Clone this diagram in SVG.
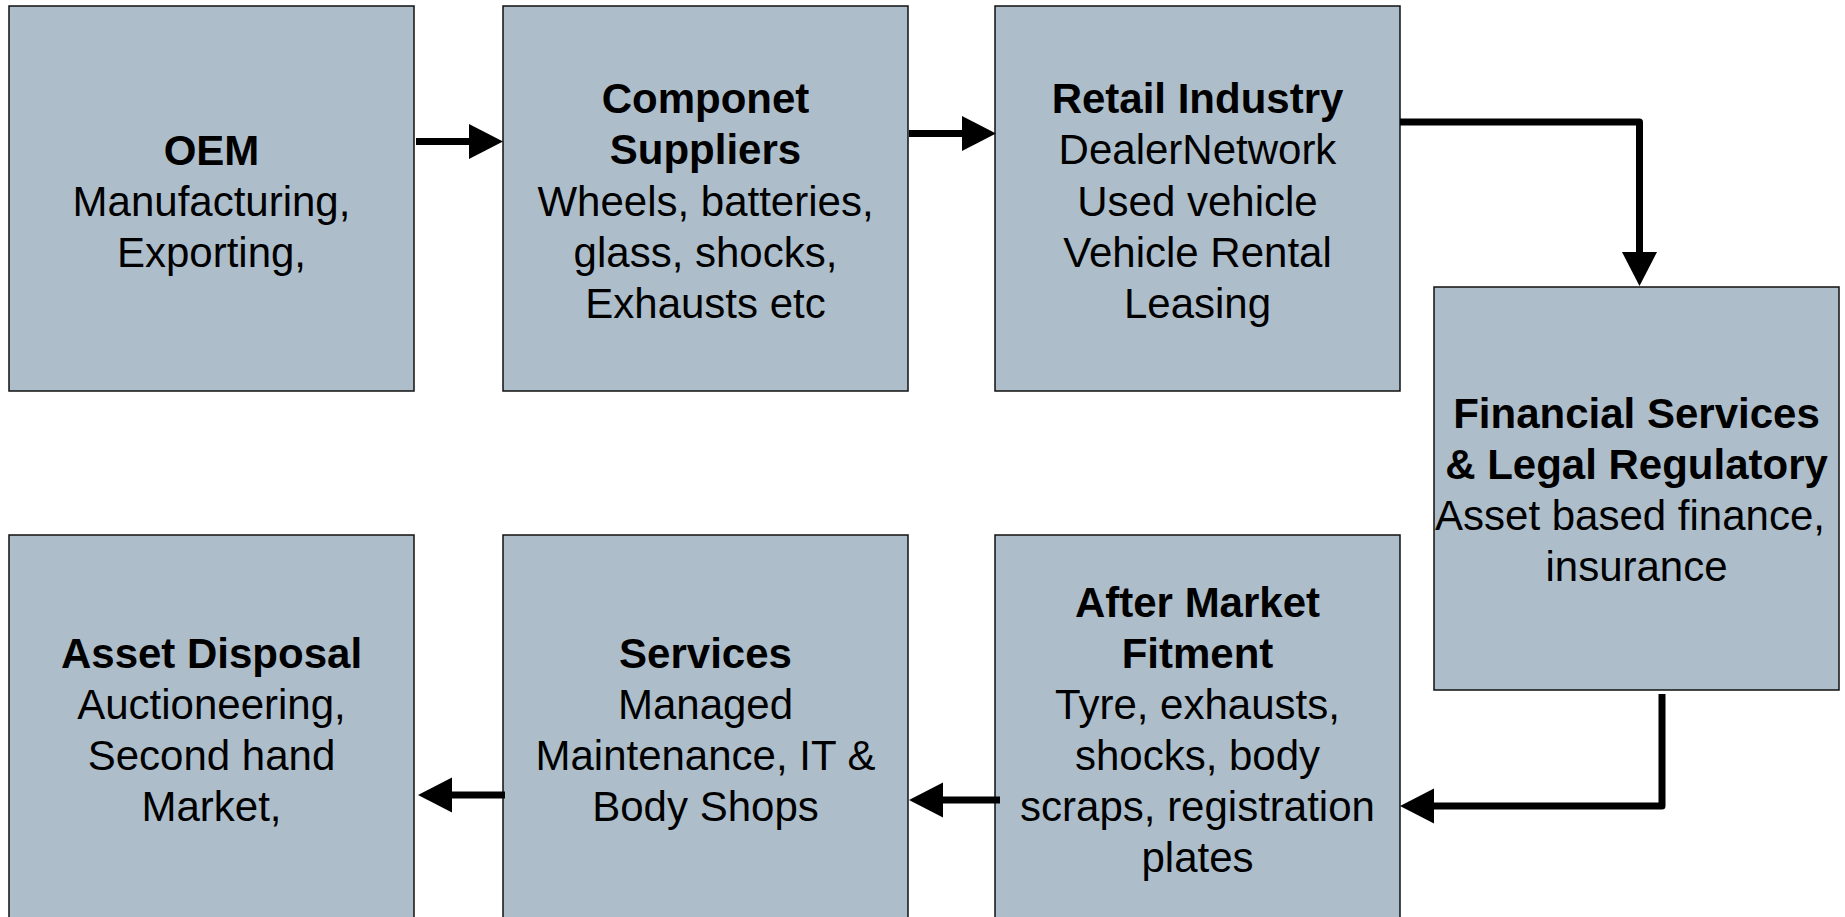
<svg xmlns="http://www.w3.org/2000/svg" width="1845" height="917" viewBox="0 0 1845 917">
<style>
.box{fill:#adbeca;stroke:#111;stroke-width:1.5}
.t{font-family:"Liberation Sans",Arial,sans-serif;font-size:42px;fill:#000;text-anchor:middle}
.b{font-weight:bold}
.c{fill:none;stroke:#000;stroke-width:7;stroke-linejoin:round}
</style>
<defs>
<marker id="ah" markerUnits="userSpaceOnUse" markerWidth="35" markerHeight="36" refX="0" refY="17.5" orient="auto" viewBox="0 0 35 36">
<path d="M0,0 L34,17.5 L0,35 z" fill="#000"/>
</marker>
</defs>
<rect width="1845" height="917" fill="#fff"/>
<g id="oem">
<rect class="box" x="9" y="6" width="405" height="385"/>
<text class="t" x="211.5"><tspan class="b" x="211.5" y="165">OEM</tspan><tspan x="211.5" y="216">Manufacturing,</tspan><tspan x="211.5" y="267">Exporting,</tspan></text>
</g>
<g id="componet">
<rect class="box" x="503" y="6" width="405" height="385"/>
<text class="t"><tspan class="b" x="705.5" y="113">Componet</tspan><tspan class="b" x="705.5" y="164">Suppliers</tspan><tspan x="705.5" y="216">Wheels, batteries,</tspan><tspan x="705.5" y="267">glass, shocks,</tspan><tspan x="705.5" y="318">Exhausts etc</tspan></text>
</g>
<g id="retail">
<rect class="box" x="995" y="6" width="405" height="385"/>
<text class="t"><tspan class="b" x="1197.5" y="113">Retail Industry</tspan><tspan x="1197.5" y="164">DealerNetwork</tspan><tspan x="1197.5" y="216">Used vehicle</tspan><tspan x="1197.5" y="267">Vehicle Rental</tspan><tspan x="1197.5" y="318">Leasing</tspan></text>
</g>
<g id="financial">
<rect class="box" x="1434" y="287" width="405" height="403"/>
<text class="t"><tspan class="b" x="1636.5" y="428">Financial Services</tspan><tspan class="b" x="1636.5" y="479">&amp; Legal Regulatory</tspan><tspan x="1630" y="530">Asset based finance,</tspan><tspan x="1636.5" y="581">insurance</tspan></text>
</g>
<g id="aftermarket">
<rect class="box" x="995" y="535" width="405" height="400"/>
<text class="t"><tspan class="b" x="1197.5" y="617">After Market</tspan><tspan class="b" x="1197.5" y="668">Fitment</tspan><tspan x="1197.5" y="719">Tyre, exhausts,</tspan><tspan x="1197.5" y="770">shocks, body</tspan><tspan x="1197.5" y="821">scraps, registration</tspan><tspan x="1197.5" y="872">plates</tspan></text>
</g>
<g id="services">
<rect class="box" x="503" y="535" width="405" height="400"/>
<text class="t"><tspan class="b" x="705.5" y="668">Services</tspan><tspan x="705.5" y="719">Managed</tspan><tspan x="705.5" y="770">Maintenance, IT &amp;</tspan><tspan x="705.5" y="821">Body Shops</tspan></text>
</g>
<g id="assetdisposal">
<rect class="box" x="9" y="535" width="405" height="400"/>
<text class="t"><tspan class="b" x="211.5" y="668">Asset Disposal</tspan><tspan x="211.5" y="719">Auctioneering,</tspan><tspan x="211.5" y="770">Second hand</tspan><tspan x="211.5" y="821">Market,</tspan></text>
</g>
<g id="connectors">
<path class="c" d="M416,141.5 H469" marker-end="url(#ah)"/>
<path class="c" d="M909,133.5 H962" marker-end="url(#ah)"/>
<path class="c" d="M1400,122 H1639.5 V252" marker-end="url(#ah)"/>
<path class="c" d="M1662,694 V806 H1434" marker-end="url(#ah)"/>
<path class="c" d="M1000,800 H943" marker-end="url(#ah)"/>
<path class="c" d="M505,795 H452" marker-end="url(#ah)"/>
</g>
</svg>
